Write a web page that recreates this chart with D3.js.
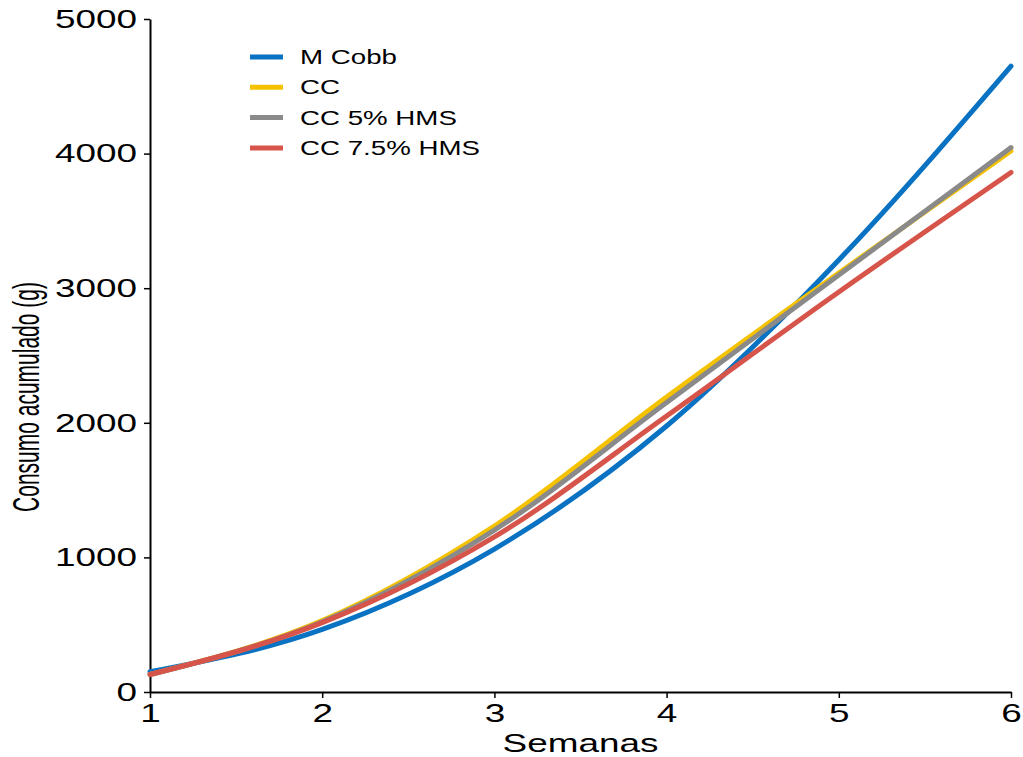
<!DOCTYPE html>
<html>
<head>
<meta charset="utf-8">
<script src="https://cdn.jsdelivr.net/npm/d3@7"></script>
<style>
  body { margin: 0; background: #fff; }
  text { font-family: "Liberation Sans", Arial, sans-serif; fill: #000; }
</style>
</head>
<body>
<div id="chart"></div>
<script>
// data
const weeks = [1, 2, 3, 4, 5, 6];
const seriesNames = ["M Cobb", "CC", "CC 5% HMS", "CC 7.5% HMS"];
const mCobb = [150, 465, 1062, 1976, 3210, 4650];
const cc = [130, 530, 1233, 2192, 3113, 4020];
const cc5 = [130, 522, 1203, 2150, 3098, 4045];
const cc75 = [130, 515, 1152, 2050, 2972, 3860];
const yTicks = [0, 1000, 2000, 3000, 4000, 5000];
const colors = ["#0a72c2", "#f5c200", "#8a8a8a", "#d65449"];

const W = 1023, H = 757;
const margin = {top: 19, right: 12, bottom: 65, left: 150};
const width = W - margin.left - margin.right;
const height = H - margin.top - margin.bottom;
const sx = 1.42; // the reference text is stretched horizontally

const svg = d3.select("#chart").append("svg")
    .attr("width", W)
    .attr("height", H);
const g = svg.append("g")
    .attr("transform", `translate(${margin.left},${margin.top})`);

const xScale = d3.scaleLinear().domain([1, 6]).range([0, width]);
const yScale = d3.scaleLinear().domain([0, 5000]).range([height, 0]);

// axes
const xAxis = d3.axisBottom(xScale).tickValues(weeks).tickFormat(d3.format("d"))
    .tickSize(6).tickSizeOuter(0).tickPadding(6);
const yAxis = d3.axisLeft(yScale).tickValues(yTicks).tickFormat(d3.format("d"))
    .tickSize(6).tickSizeOuter(0).tickPadding(7);

const gx = g.append("g")
    .attr("transform", `translate(0,${height})`)
    .call(xAxis);
const gy = g.append("g").call(yAxis);

[gx, gy].forEach(ax => {
    ax.select(".domain").attr("stroke", "#000").attr("stroke-width", 2);
    ax.selectAll(".tick line").attr("stroke", "#000").attr("stroke-width", 1.5);
    ax.selectAll(".tick text")
        .style("font-size", "26px")
        .attr("fill", "#000");
});
gy.selectAll(".tick text").each(function() {
    const t = d3.select(this);
    t.attr("x", +t.attr("x") / sx).attr("transform", `scale(${sx},1)`);
});
gx.selectAll(".tick text").attr("transform", `scale(${sx},1)`);

// axis titles
svg.append("text")
    .attr("transform", `translate(${margin.left + width / 2},752) scale(${sx},1)`)
    .attr("text-anchor", "middle")
    .style("font-size", "26px")
    .text("Semanas");

svg.append("text")
    .attr("transform", `translate(39,397) rotate(-90) scale(1,1.8)`)
    .attr("text-anchor", "middle")
    .style("font-size", "21px")
    .text("Consumo acumulado (g)");

// lines
const allSeries = [mCobb, cc, cc5, cc75];
const line = d3.line()
    .x((d, i) => xScale(weeks[i]))
    .y(d => yScale(d))
    .curve(d3.curveMonotoneX);

g.append("g").selectAll("path")
    .data(allSeries)
    .join("path")
    .attr("d", d => line(d))
    .attr("fill", "none")
    .attr("stroke", (d, i) => colors[i])
    .attr("stroke-width", 5)
    .attr("stroke-linecap", "round")
    .attr("stroke-linejoin", "round");

// legend
const legend = svg.append("g").attr("transform", "translate(250,57)");
const items = legend.selectAll("g")
    .data(seriesNames)
    .join("g")
    .attr("transform", (d, i) => `translate(0,${i * 30.3})`);
items.append("line")
    .attr("x1", 0).attr("x2", 33)
    .attr("stroke", (d, i) => colors[i])
    .attr("stroke-width", 5);
items.append("text")
    .attr("transform", `translate(50,7) scale(${sx},1)`)
    .style("font-size", "19.5px")
    .text(d => d);
</script>
</body>
</html>
